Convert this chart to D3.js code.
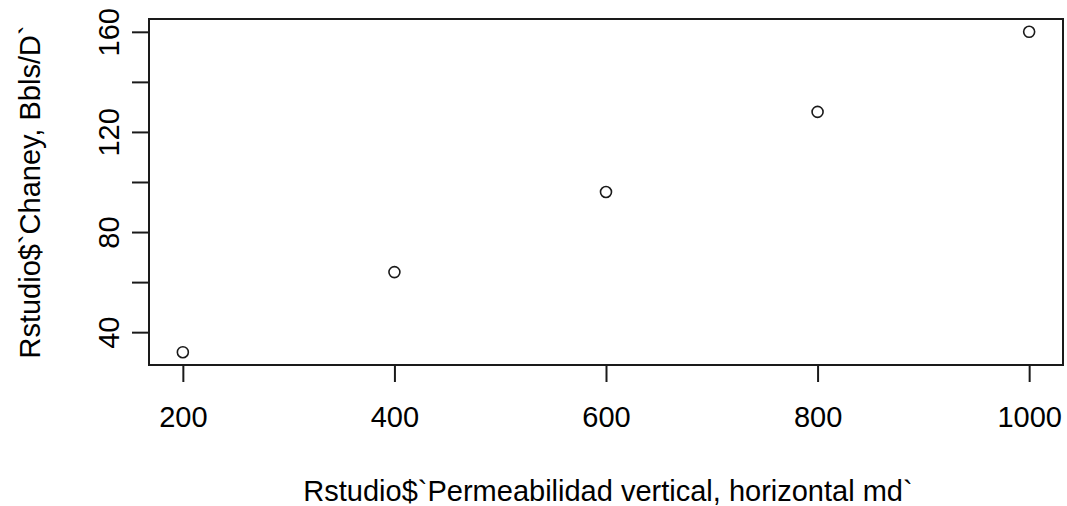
<!DOCTYPE html>
<html>
<head>
<meta charset="utf-8">
<script src="https://cdn.jsdelivr.net/npm/d3@7"></script>
<style>
  html, body { margin: 0; padding: 0; background: #fff; }
  svg text { font-family: "Liberation Sans", Arial, sans-serif; fill: #000; }
</style>
</head>
<body>
<svg id="chart" width="1067" height="506"></svg>
<script>
// Permeability (md) against Chaney rate (Bbls/D)
const permeability = [200, 400, 600, 800, 1000];
const chaneyRate = [32, 64, 96, 128, 160];

const xTicks = [200, 400, 600, 800, 1000];
const yTicks = [40, 60, 80, 100, 120, 140, 160];
const yTickLabels = [40, 80, 120, 160];

const xLabel = "Rstudio$`Permeabilidad vertical, horizontal md`";
const yLabel = "Rstudio$`Chaney, Bbls/D`";

const W = 1067, H = 506;
const plot = { left: 149, right: 1063, top: 19, bottom: 365 };

// extend the data range by 4% on each side
function padded(values) {
  const [lo, hi] = d3.extent(values);
  const d = (hi - lo) * 0.04;
  return [lo - d, hi + d];
}

const x = d3.scaleLinear().domain(padded(permeability)).range([plot.left, plot.right]);
const y = d3.scaleLinear().domain(padded(chaneyRate)).range([plot.bottom, plot.top]);

const svg = d3.select("#chart");
const ink = "#1a1a1a";
const fontSize = 29;
const fmt = d3.format("d");

// frame
svg.append("rect")
  .attr("x", plot.left).attr("y", plot.top)
  .attr("width", plot.right - plot.left).attr("height", plot.bottom - plot.top)
  .attr("fill", "none").attr("stroke", ink).attr("stroke-width", 2);

// x axis
const xAxis = d3.axisBottom(x).tickValues(xTicks).tickFormat(fmt)
  .tickSize(17).tickPadding(24).tickSizeOuter(0);
const gx = svg.append("g").attr("transform", `translate(0,${plot.bottom})`).call(xAxis);
gx.select(".domain")
  .attr("d", `M${x(xTicks[0])},0H${x(xTicks[xTicks.length - 1])}`)
  .attr("stroke", ink).attr("stroke-width", 2);
gx.selectAll(".tick line").attr("stroke", ink).attr("stroke-width", 2);
gx.selectAll(".tick text")
  .attr("font-size", fontSize).attr("font-family", "Liberation Sans, Arial, sans-serif")
  .attr("fill", "#000").attr("dy", "0.71em");

// y axis
const yAxis = d3.axisLeft(y).tickValues(yTicks).tickSize(17).tickSizeOuter(0)
  .tickFormat(d => yTickLabels.includes(d) ? fmt(d) : "");
const gy = svg.append("g").attr("transform", `translate(${plot.left},0)`).call(yAxis);
gy.select(".domain")
  .attr("d", `M0,${y(yTicks[0])}V${y(yTicks[yTicks.length - 1])}`)
  .attr("stroke", ink).attr("stroke-width", 2);
gy.selectAll(".tick line").attr("stroke", ink).attr("stroke-width", 2);
gy.selectAll(".tick text")
  .attr("font-size", fontSize).attr("font-family", "Liberation Sans, Arial, sans-serif")
  .attr("fill", "#000")
  .attr("x", null).attr("dy", null)
  .attr("text-anchor", "middle")
  .attr("transform", "translate(-30,0) rotate(-90)");

// points
svg.append("g").selectAll("circle")
  .data(permeability.map((p, i) => ({ p, c: chaneyRate[i] })))
  .join("circle")
  .attr("cx", d => x(d.p)).attr("cy", d => y(d.c))
  .attr("r", 5.5)
  .attr("fill", "none").attr("stroke", ink).attr("stroke-width", 1.6);

// axis titles
svg.append("text")
  .attr("x", (plot.left + plot.right) / 2 + 2).attr("y", 501)
  .attr("text-anchor", "middle").attr("font-size", fontSize)
  .text(xLabel);

svg.append("text")
  .attr("transform", `translate(40,${(plot.top + plot.bottom) / 2}) rotate(-90)`)
  .attr("text-anchor", "middle").attr("font-size", fontSize)
  .text(yLabel);
</script>
</body>
</html>
